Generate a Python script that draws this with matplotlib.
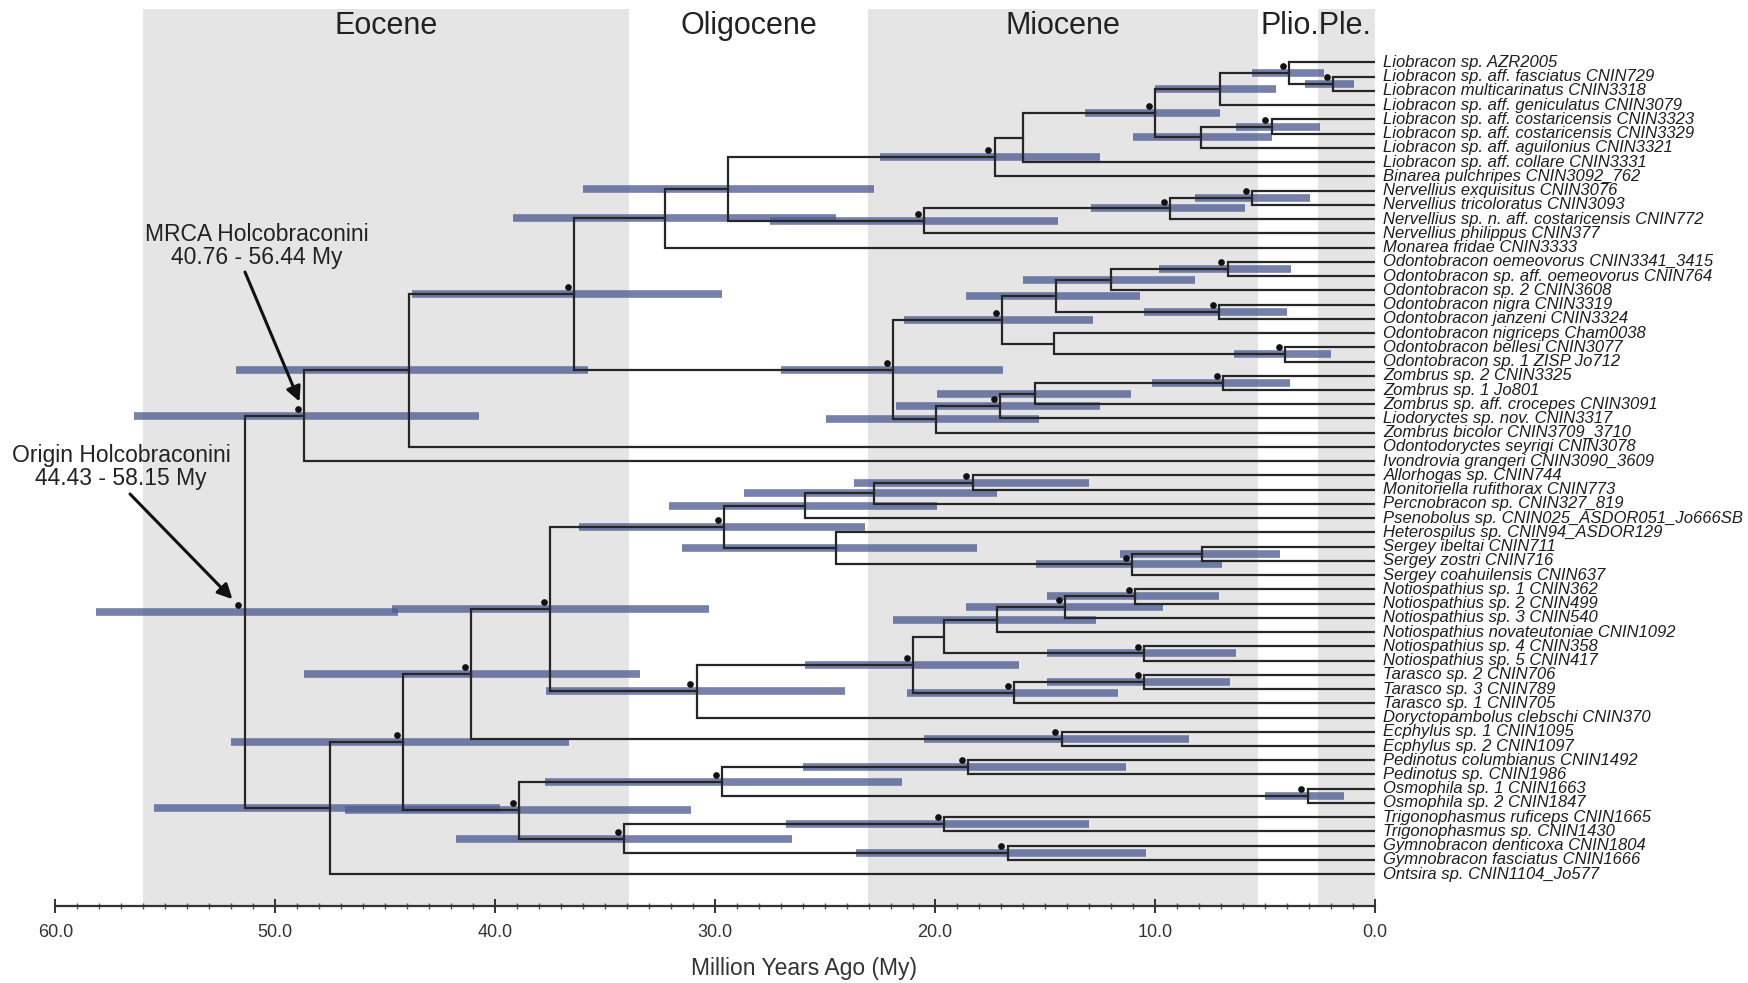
import matplotlib
matplotlib.use('Agg')
import matplotlib.pyplot as plt
import matplotlib.transforms as mtransforms
from matplotlib.ticker import MultipleLocator, FormatStrFormatter

W, H = 1749, 983

tip_labels = [
    "Liobracon sp. AZR2005",
    "Liobracon sp. aff. fasciatus CNIN729",
    "Liobracon multicarinatus CNIN3318",
    "Liobracon sp. aff. geniculatus CNIN3079",
    "Liobracon sp. aff. costaricensis CNIN3323",
    "Liobracon sp. aff. costaricensis CNIN3329",
    "Liobracon sp. aff. aguilonius CNIN3321",
    "Liobracon sp. aff. collare CNIN3331",
    "Binarea pulchripes CNIN3092_762",
    "Nervellius exquisitus CNIN3076",
    "Nervellius tricoloratus CNIN3093",
    "Nervellius sp. n. aff. costaricensis CNIN772",
    "Nervellius philippus CNIN377",
    "Monarea fridae CNIN3333",
    "Odontobracon oemeovorus CNIN3341_3415",
    "Odontobracon sp. aff. oemeovorus CNIN764",
    "Odontobracon sp. 2 CNIN3608",
    "Odontobracon nigra CNIN3319",
    "Odontobracon janzeni CNIN3324",
    "Odontobracon nigriceps Cham0038",
    "Odontobracon bellesi CNIN3077",
    "Odontobracon sp. 1 ZISP Jo712",
    "Zombrus sp. 2 CNIN3325",
    "Zombrus sp. 1 Jo801",
    "Zombrus sp. aff. crocepes CNIN3091",
    "Liodoryctes sp. nov. CNIN3317",
    "Zombrus bicolor CNIN3709_3710",
    "Odontodoryctes seyrigi CNIN3078",
    "Ivondrovia grangeri CNIN3090_3609",
    "Allorhogas sp. CNIN744",
    "Monitoriella rufithorax CNIN773",
    "Percnobracon sp. CNIN327_819",
    "Psenobolus sp. CNIN025_ASDOR051_Jo666SB",
    "Heterospilus sp. CNIN94_ASDOR129",
    "Sergey ibeltai CNIN711",
    "Sergey zostri CNIN716",
    "Sergey coahuilensis CNIN637",
    "Notiospathius sp. 1 CNIN362",
    "Notiospathius sp. 2 CNIN499",
    "Notiospathius sp. 3 CNIN540",
    "Notiospathius novateutoniae CNIN1092",
    "Notiospathius sp. 4 CNIN358",
    "Notiospathius sp. 5 CNIN417",
    "Tarasco sp. 2 CNIN706",
    "Tarasco sp. 3 CNIN789",
    "Tarasco sp. 1 CNIN705",
    "Doryctopambolus clebschi CNIN370",
    "Ecphylus sp. 1 CNIN1095",
    "Ecphylus sp. 2 CNIN1097",
    "Pedinotus columbianus CNIN1492",
    "Pedinotus sp. CNIN1986",
    "Osmophila sp. 1 CNIN1663",
    "Osmophila sp. 2 CNIN1847",
    "Trigonophasmus ruficeps CNIN1665",
    "Trigonophasmus sp. CNIN1430",
    "Gymnobracon denticoxa CNIN1804",
    "Gymnobracon fasciatus CNIN1666",
    "Ontsira sp. CNIN1104_Jo577",
]

# internal nodes: children are tip numbers (1-based) or node names
node_names = ["n23", "n1_23", "n1_4", "n56", "n56_7", "nL7", "nL8", "nLB",
              "n10_11", "n1011_12", "nNerv", "nLBN", "nLBNM",
              "n15_16", "n1516_17", "n18_19", "nOdA", "n21_22", "n20_2122", "nOdo",
              "n23_24", "n2324_25", "nZ26", "nZ27", "nOZ", "n515", "n44", "nMRCA",
              "n30_31", "n3031_32", "n33", "n35_36", "nSerg", "n34S", "nY",
              "n38_39", "n3839_40", "nN41", "n42_43", "nNotio", "n44_45", "nTar",
              "nNT", "nZ", "nX", "nEcph", "nX41", "nPed", "nOsm", "nPedOsm",
              "nTrig", "nGym", "nTG", "n389", "n441", "n475", "root"]
node_children = [(2, 3), (1, "n23"), ("n1_23", 4), (5, 6), ("n56", 7), ("n1_4", "n56_7"),
                 ("nL7", 8), ("nL8", 9),
                 (10, 11), ("n10_11", 12), ("n1011_12", 13), ("nLB", "nNerv"), ("nLBN", 14),
                 (15, 16), ("n15_16", 17), (18, 19), ("n1516_17", "n18_19"), (21, 22),
                 (20, "n21_22"), ("nOdA", "n20_2122"),
                 (23, 24), ("n23_24", 25), ("n2324_25", 26), ("nZ26", 27), ("nOdo", "nZ27"),
                 ("nLBNM", "nOZ"), ("n515", 28), ("n44", 29),
                 (30, 31), ("n30_31", 32), ("n3031_32", 33), (35, 36), ("n35_36", 37),
                 (34, "nSerg"), ("n33", "n34S"),
                 (38, 39), ("n38_39", 40), ("n3839_40", 41), (42, 43), ("nN41", "n42_43"),
                 (44, 45), ("n44_45", 46),
                 ("nNotio", "nTar"), ("nNT", 47), ("nY", "nZ"), (48, 49), ("nX", "nEcph"),
                 (50, 51), (52, 53), ("nPed", "nOsm"),
                 (54, 55), (56, 57), ("nTrig", "nGym"), ("nPedOsm", "nTG"), ("nX41", "n389"),
                 ("n441", 58), ("nMRCA", "n475")]
node_ages = [1.9, 3.9, 7.05, 4.7, 7.9, 10.0, 16.0, 17.3,
             5.6, 9.3, 20.5, 29.4, 32.3,
             6.7, 12.0, 7.1, 14.5, 4.1, 14.6, 16.95,
             6.9, 15.45, 17.05, 19.95, 21.9, 36.4, 43.9, 48.7,
             18.3, 22.8, 25.9, 7.86, 11.05, 24.5, 29.6,
             10.9, 14.1, 17.2, 10.5, 19.6, 10.5, 16.4,
             21.0, 30.85, 37.5, 14.25, 41.1, 18.5, 3.06, 29.7,
             19.6, 16.7, 34.15, 38.9, 44.2, 47.5, 51.4]
node_hpd_old = [3.2, 5.6, 10.0, 6.3, 11.0, 13.2, None, 22.5,
                8.2, 12.9, 27.5, 36.0, 39.2,
                9.8, 16.0, 10.5, 18.6, 6.4, None, 21.4,
                10.15, 19.9, 21.8, 24.95, 27.0, 43.8, 51.8, 56.44,
                23.7, 28.7, 32.1, 11.6, 15.4, 31.5, 36.2,
                14.9, 18.6, 21.9, 14.9, None, 14.9, 21.3,
                25.9, 37.7, 44.7, 20.5, 48.7, 26.0, 5.0, 37.75,
                26.8, 23.6, 41.8, 46.85, 52.0, 55.5, 58.15]
node_hpd_young = [0.96, 2.3, 4.5, 2.5, 4.7, 7.05, None, 12.5,
                  2.94, 5.9, 14.4, 22.8, 24.5,
                  3.84, 8.2, 4.0, 10.7, 2.0, None, 12.8,
                  3.86, 11.1, 12.5, 15.3, 16.9, 29.7, 35.8, 40.76,
                  13.0, 17.2, 19.9, 4.3, 6.96, 18.1, 23.2,
                  7.1, 9.65, 12.7, 6.3, None, 6.6, 11.7,
                  16.2, 24.1, 30.3, 8.45, 33.4, 11.3, 1.4, 21.5,
                  13.0, 10.4, 26.5, 31.1, 36.65, 39.8, 44.43]
node_dot = [1, 1, 0, 1, 0, 1, 0, 1,
            1, 1, 1, 0, 0,
            1, 0, 1, 0, 1, 0, 1,
            1, 0, 1, 0, 1, 1, 0, 1,
            1, 0, 0, 0, 1, 0, 1,
            1, 1, 0, 1, 0, 1, 1,
            1, 1, 1, 1, 1, 1, 1, 1,
            1, 1, 1, 1, 1, 0, 1]

epoch_names = ["Eocene", "Oligocene", "Miocene", "Plio.Ple."]
epoch_label_age = [44.95, 28.47, 14.18, 2.67]
epoch_start = [56.0, 33.9, 23.03, 5.333, 2.58]
epoch_end = [33.9, 23.03, 5.333, 2.58, 0.0]
epoch_shaded = [True, False, True, False, True]

# ---------------------------------------------------------------
fig = plt.figure(figsize=(W / 100, H / 100), dpi=100)
x0_px, x1_px = 55.4, 1375.0
top_px, bot_px = 9.0, 906.0
ax = fig.add_axes([x0_px / W, (H - bot_px) / H, (x1_px - x0_px) / W, (bot_px - top_px) / H])
tip_y0, tip_dy = 62.5, 14.24
ax.set_xlim(60, 0)
ax.set_ylim(1 + (bot_px - tip_y0) / tip_dy, 1 + (top_px - tip_y0) / tip_dy)

for s, e, sh in zip(epoch_start, epoch_end, epoch_shaded):
    if sh:
        ax.axvspan(s, e, color='#e5e5e5', lw=0, zorder=0)

info = {n: (c, a, o, y, d) for n, c, a, o, y, d in
        zip(node_names, node_children, node_ages, node_hpd_old, node_hpd_young, node_dot)}
pos = {}

def get_pos(k):
    if isinstance(k, int):
        return (0.0, float(k))
    if k in pos:
        return pos[k]
    c = info[k][0]
    ys = [get_pos(ch)[1] for ch in c]
    pos[k] = (info[k][1], sum(ys) / len(ys))
    return pos[k]

line_col = '#262626'
bar_col = (0.31, 0.37, 0.58)
dot_tr = ax.transData + mtransforms.ScaledTranslation(-4.5 / 72, 5 / 72, fig.dpi_scale_trans)

for n in node_names:
    c, age, old, young, dot = info[n]
    xa, ya = get_pos(n)
    (x1, y1), (x2, y2) = get_pos(c[0]), get_pos(c[1])
    ax.plot([x1, xa, xa, x2], [y1, y1, y2, y2], color=line_col, lw=1.6,
            solid_joinstyle='miter', zorder=3)
    if old is not None:
        ax.plot([old, young], [ya, ya], color=bar_col, alpha=0.78, lw=5.5,
                solid_capstyle='butt', zorder=2)
    if dot:
        ax.plot([xa], [ya], 'o', color='#111111', ms=3.8, transform=dot_tr, zorder=4)

for i, lab in enumerate(tip_labels, start=1):
    ax.text(-0.38, i, lab, fontsize=12, style='italic', family=['Liberation Sans', 'DejaVu Sans'],
            va='center', ha='left', color='#1e1e1e', clip_on=False)

# epoch labels
ep_tr = mtransforms.blended_transform_factory(ax.transData, fig.transFigure)
for name, a in zip(epoch_names, epoch_label_age):
    ax.text(a, 1 - 26 / H, name, transform=ep_tr, ha='center', va='center',
            fontsize=22, family=['Liberation Sans', 'DejaVu Sans'], color='#222222')

# axis
for sp in ['top', 'left', 'right']:
    ax.spines[sp].set_visible(False)
ax.spines['bottom'].set_bounds(0, 60)
ax.spines['bottom'].set_linewidth(1.6)
ax.spines['bottom'].set_color('#333333')
ax.set_yticks([])
ax.xaxis.set_major_locator(MultipleLocator(10))
ax.xaxis.set_minor_locator(MultipleLocator(1))
ax.xaxis.set_major_formatter(FormatStrFormatter('%.1f'))
ax.tick_params(axis='x', which='major', direction='inout', length=10, width=1.4,
               color='#333333', pad=8, labelsize=13, labelcolor='#333333')
ax.tick_params(axis='x', which='minor', direction='inout', length=5, width=1.0, color='#555555')
for t in ax.get_xticklabels():
    t.set_family(['Liberation Sans', 'DejaVu Sans'])
fig.text(804 / W, 1 - 968 / H, "Million Years Ago (My)", ha='center', va='center',
         fontsize=16.5, family=['Liberation Sans', 'DejaVu Sans'], color='#333333')

# annotations
px_per_my = (x1_px - x0_px) / 60.0
def to_data(px, py):
    return ((x1_px - px) / px_per_my, 1 + (py - tip_y0) / tip_dy)

mx, my_ = get_pos("nMRCA")
ax.text(*to_data(257, 246), "MRCA Holcobraconini\n40.76 - 56.44 My", ha='center', va='center',
        fontsize=16.5, family=['Liberation Sans', 'DejaVu Sans'], color='#222222', linespacing=1.0)
ax.annotate('', xy=(mx + 0.2, my_ - 1.0), xytext=to_data(245, 272),
            arrowprops=dict(arrowstyle='-|>', lw=2.2, color='#111111', mutation_scale=22,
                            shrinkA=0, shrinkB=0), zorder=5)

rx, ry = get_pos("root")
ax.text(*to_data(121, 467), "Origin Holcobraconini\n44.43 - 58.15 My", ha='center', va='center',
        fontsize=16.5, family=['Liberation Sans', 'DejaVu Sans'], color='#222222', linespacing=1.0)
ax.annotate('', xy=(rx + 0.55, ry - 0.9), xytext=to_data(130, 494),
            arrowprops=dict(arrowstyle='-|>', lw=2.2, color='#111111', mutation_scale=22,
                            shrinkA=0, shrinkB=0), zorder=5)

fig.savefig('out.png', dpi=100)
